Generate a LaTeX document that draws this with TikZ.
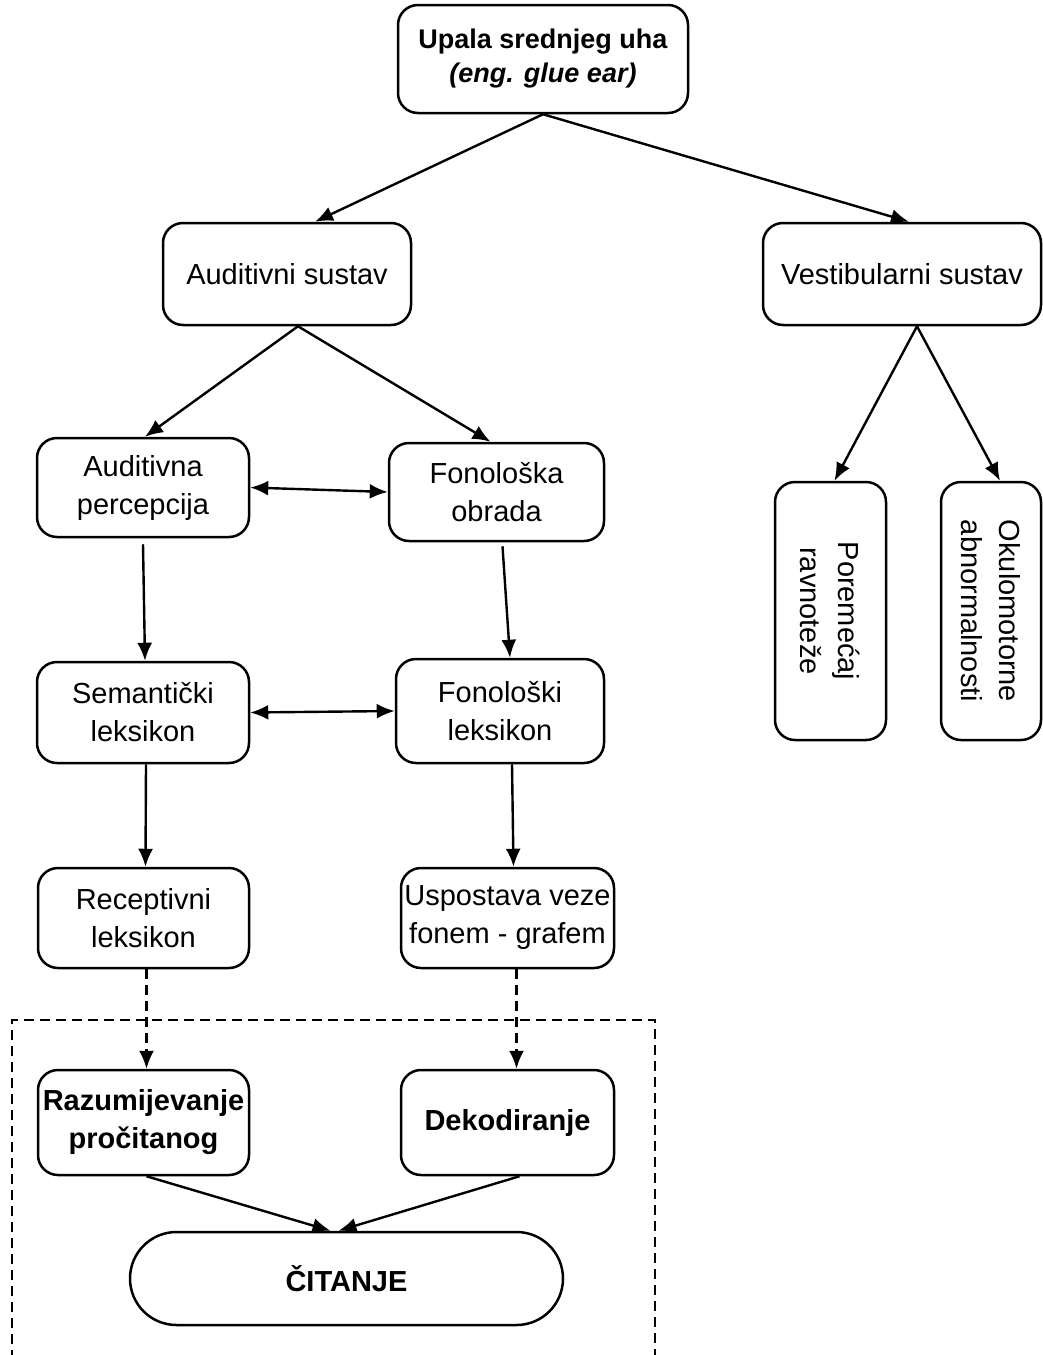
\documentclass[tikz,border=0pt]{standalone}
\usepackage{fontspec}
\setmainfont{Liberation Sans}
\usetikzlibrary{arrows.meta,calc}
\begin{document}
\begin{tikzpicture}[x=0.5pt,y=-0.5pt,
  box/.style={draw,line width=1.25pt,rounded corners=10pt,align=center,inner sep=1.5pt,
    font=\fontsize{14.5}{19}\selectfont},
  bbox/.style={box,font=\fontsize{14.5}{19}\selectfont\bfseries},
  arr/.style={line width=1.2pt,-{Latex[length=9pt,width=7.5pt]}},
  darr/.style={arr,dash pattern=on 5pt off 3pt},
  dbl/.style={line width=1.2pt,{Latex[length=9pt,width=7.5pt]}-{Latex[length=9pt,width=7.5pt]}}]
\useasboundingbox (0,0) rectangle (1043,1355);
\node[box,font=\fontsize{13.5}{17}\selectfont,minimum width=145pt,minimum height=54pt] (top) at (543,59)
  {\textbf{Upala srednjeg uha}\\\textbf{\textit{(eng. glue ear)}}};
\node[box,minimum width=124pt,minimum height=51pt] (aud) at (287,274) {Auditivni sustav};
\node[box,minimum width=139pt,minimum height=51pt] (vest) at (902,274) {Vestibularni sustav};
\node[box,minimum width=106pt,minimum height=49.5pt] (ap) at (143,487.5) {Auditivna\\percepcija};
\node[box,minimum width=107.5pt,minimum height=49pt] (fo) at (496.5,492) {Fonološka\\obrada};
\node[box,minimum width=106pt,minimum height=50.5pt] (sem) at (143,712.5) {Semantički\\leksikon};
\node[box,minimum width=104pt,minimum height=52pt] (fl) at (500,711) {Fonološki\\leksikon};
\node[box,minimum width=105.5pt,minimum height=50pt] (rec) at (143.5,918) {Receptivni\\leksikon};
\node[box,minimum width=106.5pt,minimum height=50pt] (usp) at (507.5,918) {Uspostava veze\\fonem - grafem};
\node[bbox,minimum width=105.5pt,minimum height=52.5pt] (raz) at (143.5,1122.5) {Razumijevanje\\pročitanog};
\node[bbox,minimum width=106.5pt,minimum height=52.5pt] (dek) at (507.5,1122.5) {Dekodiranje};
\node[bbox,rounded corners=23.25pt,minimum width=216.5pt,minimum height=46.5pt] (cit) at (346.5,1278.5) {ČITANJE};
\node[box,rotate=-90,minimum width=129pt,minimum height=55.5pt] (pore) at (830.5,611) {Poremećaj\\ravnoteže};
\node[box,rotate=-90,minimum width=129pt,minimum height=50pt] (oku) at (991,611) {Okulomotorne\\abnormalnosti};
% connectors
\draw[arr] (top.south) -- ([xshift=14pt]aud.north);
\draw[arr] (top.south) -- ([xshift=3.5pt]vest.north);
\draw[arr] ([xshift=5.5pt]aud.south) -- ([xshift=1pt]ap.north);
\draw[arr] ([xshift=5.5pt]aud.south) -- ([xshift=-3pt]fo.north);
\draw[dbl] (ap.east) -- (fo.west);
\draw[arr] ([yshift=-3pt]ap.south) -- ([xshift=1pt]sem.north);
\draw[arr] ([xshift=3pt,yshift=-2pt]fo.south) -- ([xshift=5pt]fl.north);
\draw[dbl] (sem.east) -- (fl.west);
\draw[arr] ([xshift=1.5pt]sem.south) -- ([xshift=1pt]rec.north);
\draw[arr] ([xshift=6pt]fl.south) -- ([xshift=3pt]usp.north);
\draw[darr] ([xshift=1.5pt]rec.south) -- ([xshift=1.5pt]raz.north);
\draw[darr] ([xshift=4.5pt]usp.south) -- ([xshift=4.5pt]dek.north);
\draw[arr] ([xshift=1.5pt]raz.south) -- ([xshift=-8pt]cit.north);
\draw[arr] ([xshift=6pt]dek.south) -- ([xshift=-4pt]cit.north);
\draw[arr] ([xshift=7.5pt]vest.south) -- ([xshift=2pt]pore.west);
\draw[arr] ([xshift=7.5pt]vest.south) -- ([xshift=4.5pt]oku.west);
% dashed frame
\draw[line width=0.8pt,dash pattern=on 5pt off 3pt] (12,1360) -- (12,1020) -- (655,1020) -- (655,1360);
\end{tikzpicture}
\end{document}
